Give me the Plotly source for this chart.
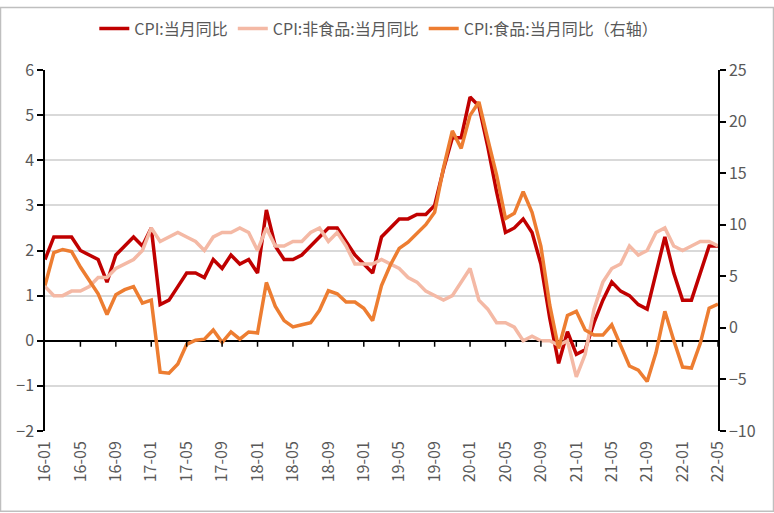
import plotly.graph_objects as go

# Categories: monthly 2016-01 .. 2022-05
months = [f"{y:02d}-{m:02d}" for y in range(16, 23) for m in range(1, 13)][:77]
tick_labels = months[::4]

# CPI: 当月同比 (left axis, %)
cpi = [
    1.8, 2.3, 2.3, 2.3, 2.0, 1.9, 1.8, 1.3, 1.9, 2.1, 2.3, 2.1,
    2.5, 0.8, 0.9, 1.2, 1.5, 1.5, 1.4, 1.8, 1.6, 1.9, 1.7, 1.8,
    1.5, 2.9, 2.1, 1.8, 1.8, 1.9, 2.1, 2.3, 2.5, 2.5, 2.2, 1.9,
    1.7, 1.5, 2.3, 2.5, 2.7, 2.7, 2.8, 2.8, 3.0, 3.8, 4.5, 4.5,
    5.4, 5.2, 4.3, 3.3, 2.4, 2.5, 2.7, 2.4, 1.7, 0.5, -0.5, 0.2,
    -0.3, -0.2, 0.4, 0.9, 1.3, 1.1, 1.0, 0.8, 0.7, 1.5, 2.3, 1.5,
    0.9, 0.9, 1.5, 2.1, 2.1,
]

# CPI: 非食品: 当月同比 (left axis, %)
nonfood = [
    1.2, 1.0, 1.0, 1.1, 1.1, 1.2, 1.4, 1.4, 1.6, 1.7, 1.8, 2.0,
    2.5, 2.2, 2.3, 2.4, 2.3, 2.2, 2.0, 2.3, 2.4, 2.4, 2.5, 2.4,
    2.0, 2.5, 2.1, 2.1, 2.2, 2.2, 2.4, 2.5, 2.2, 2.4, 2.1, 1.7,
    1.7, 1.7, 1.8, 1.7, 1.6, 1.4, 1.3, 1.1, 1.0, 0.9, 1.0, 1.3,
    1.6, 0.9, 0.7, 0.4, 0.4, 0.3, 0.0, 0.1, 0.0, 0.0, -0.1, 0.0,
    -0.8, -0.3, 0.7, 1.3, 1.6, 1.7, 2.1, 1.9, 2.0, 2.4, 2.5, 2.1,
    2.0, 2.1, 2.2, 2.2, 2.1,
]

# CPI: 食品: 当月同比 (right axis, %)
food = [
    4.1, 7.3, 7.6, 7.4, 5.9, 4.6, 3.3, 1.3, 3.2, 3.7, 4.0, 2.4,
    2.7, -4.3, -4.4, -3.5, -1.6, -1.2, -1.1, -0.2, -1.4, -0.4, -1.1, -0.4,
    -0.5, 4.4, 2.1, 0.7, 0.1, 0.3, 0.5, 1.7, 3.6, 3.3, 2.5, 2.5,
    1.9, 0.7, 4.1, 6.1, 7.7, 8.3, 9.1, 10.0, 11.2, 15.5, 19.1, 17.4,
    20.6, 21.9, 18.3, 14.8, 10.6, 11.1, 13.2, 11.2, 7.9, 2.2, -2.0, 1.2,
    1.6, -0.2, -0.7, -0.7, 0.3, -1.7, -3.7, -4.1, -5.2, -2.4, 1.6, -1.2,
    -3.8, -3.9, -1.5, 1.9, 2.3,
]

FONT = "Noto Sans CJK SC, Liberation Sans, sans-serif"
GREY = "#595959"

fig = go.Figure()
fig.add_trace(go.Scatter(x=months, y=cpi, name="CPI:当月同比", mode="lines",
                         line=dict(color="#C00000", width=3.5)))
fig.add_trace(go.Scatter(x=months, y=nonfood, name="CPI:非食品:当月同比", mode="lines",
                         line=dict(color="#F4B9A5", width=3.5)))
fig.add_trace(go.Scatter(x=months, y=food, name="CPI:食品:当月同比（右轴）", mode="lines",
                         line=dict(color="#ED7D31", width=3.5), yaxis="y2"))

# small downward tick marks on the zero line at the labelled months
shapes = []
for lab in tick_labels[1:]:
    i = months.index(lab)
    shapes.append(dict(type="line", xref="x", yref="y", x0=i, x1=i,
                       ysizemode="pixel", yanchor=0, y0=0, y1=-6,
                       line=dict(color="black", width=1.5)))
# outer border of the chart
pw, ph = 673, 367
shapes.append(dict(type="rect", xref="paper", yref="paper",
                   x0=(0.5 - 45) / pw, x1=(773.5 - 45) / pw,
                   y0=(431 - 512.5) / ph, y1=(431 - 0.5) / ph,
                   line=dict(color="#bfbfbf", width=1.5), layer="below"))

fig.update_layout(
    width=774, height=513,
    margin=dict(l=45, r=56, t=64, b=82),
    paper_bgcolor="white", plot_bgcolor="white",
    font=dict(family=FONT, color=GREY, size=14),
    shapes=shapes,
    legend=dict(orientation="h", x=0.496, xanchor="center", y=1.115, yanchor="middle",
                font=dict(size=16, color=GREY, family=FONT), bgcolor="rgba(0,0,0,0)",
                itemwidth=30),
    xaxis=dict(type="category", range=[0, 76], tickmode="array",
               tickvals=tick_labels, ticktext=tick_labels, tickangle=-90,
               showgrid=False, showline=False, ticks="", zeroline=False,
               ticklabelstandoff=6,
               tickfont=dict(size=16, color=GREY, family=FONT)),
    yaxis=dict(range=[-2, 6], tick0=-2, dtick=1, showgrid=True, gridcolor="#d9d9d9",
               gridwidth=1.5, showline=True, linecolor="black", linewidth=1.5,
               ticks="outside", ticklen=6, tickwidth=1.5, tickcolor="black",
               zeroline=True, zerolinecolor="black", zerolinewidth=1.5,
               tickfont=dict(size=16, color=GREY, family=FONT)),
    yaxis2=dict(range=[-10, 25], tick0=-10, dtick=5, overlaying="y", side="right",
                showgrid=False, zeroline=False, showline=True, linecolor="black",
                linewidth=1.5, ticks="outside", ticklen=6, tickwidth=1.5,
                tickcolor="black", tickfont=dict(size=16, color=GREY, family=FONT)),
)

fig.write_html("out.html", config={"displayModeBar": False},
               post_script="document.body.style.margin='0';")
